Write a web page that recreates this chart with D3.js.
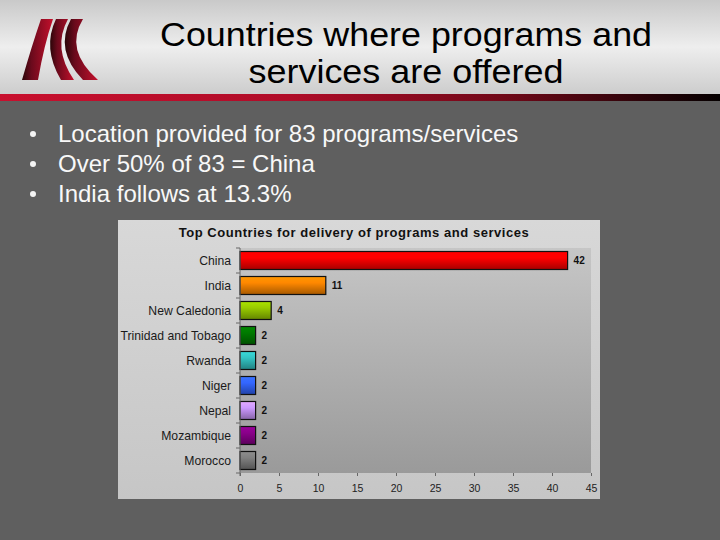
<!DOCTYPE html>
<html lang="en">
<head>
    <meta charset="utf-8" />
    <style>
        body {margin:0; background:#5f5f5f;}
        text {font-family: "Liberation Sans", Arial, sans-serif;}
    </style>
    <script src="https://d3js.org/d3.v7.min.js"></script>
</head>
<body>
    <svg></svg>
</body>
<script>
    var width = 720,
        height = 540;

    var titleLines = ["Countries where programs and", "services are offered"];
    var bullets = [
        "Location provided for 83 programs/services",
        "Over 50% of 83 = China",
        "India follows at 13.3%"
    ];

    var chartTitle = "Top Countries for delivery of programs and services";
    var categories = ["China", "India", "New Caledonia", "Trinidad and Tobago", "Rwanda",
                      "Niger", "Nepal", "Mozambique", "Morocco"];
    var values = [42, 11, 4, 2, 2, 2, 2, 2, 2];
    var xTicks = [0, 5, 10, 15, 20, 25, 30, 35, 40, 45];
    var barColors = ["#ff0000", "#ff8800", "#99cc00", "#007a00", "#33c4c4",
                     "#3366ff", "#cc99ff", "#8a008a", "#808080"];

    var svg = d3.select("svg")
        .attr("width", width)
        .attr("height", height)
        .style("display", "block")

    var defs = svg.append("defs");

    // header gradient
    var hg = defs.append("linearGradient").attr("id", "hdr").attr("x1", 0).attr("y1", 0).attr("x2", 0).attr("y2", 1);
    hg.append("stop").attr("offset", "0%").attr("stop-color", "#c9c9c9");
    hg.append("stop").attr("offset", "50%").attr("stop-color", "#eeeeee");
    hg.append("stop").attr("offset", "100%").attr("stop-color", "#cdcdcd");

    var rg = defs.append("linearGradient").attr("id", "redline");
    rg.append("stop").attr("offset", "0%").attr("stop-color", "#c8102e");
    rg.append("stop").attr("offset", "40%").attr("stop-color", "#b00c28");
    rg.append("stop").attr("offset", "70%").attr("stop-color", "#700818");
    rg.append("stop").attr("offset", "100%").attr("stop-color", "#050000");

    var lg = defs.append("linearGradient").attr("id", "logo").attr("x1", 0).attr("y1", 0).attr("x2", 1).attr("y2", 0);
    lg.append("stop").attr("offset", "0%").attr("stop-color", "#2a0508");
    lg.append("stop").attr("offset", "30%").attr("stop-color", "#6a0a1c");
    lg.append("stop").attr("offset", "100%").attr("stop-color", "#c4102c");

    var pg = defs.append("linearGradient").attr("id", "plotbg").attr("x1", 0).attr("y1", 0).attr("x2", 0).attr("y2", 1);
    pg.append("stop").attr("offset", "0%").attr("stop-color", "#c6c6c6");
    pg.append("stop").attr("offset", "100%").attr("stop-color", "#9a9a9a");

    var cg = defs.append("linearGradient").attr("id", "chartbg").attr("x1", 0).attr("y1", 0).attr("x2", 0).attr("y2", 1);
    cg.append("stop").attr("offset", "0%").attr("stop-color", "#d8d8d8");
    cg.append("stop").attr("offset", "100%").attr("stop-color", "#c6c6c6");

    barColors.forEach(function(c, i) {
        var g = defs.append("linearGradient").attr("id", "bar" + i)
            .attr("x1", 0).attr("y1", 0).attr("x2", 0).attr("y2", 1);
        g.append("stop").attr("offset", "0%").attr("stop-color", d3.color(c).brighter(0.3));
        g.append("stop").attr("offset", "35%").attr("stop-color", c);
        g.append("stop").attr("offset", "100%").attr("stop-color", d3.color(c).darker(1.2));
    })

    // slide header
    svg.append("rect").attr("width", width).attr("height", height).attr("fill", "#5f5f5f");
    svg.append("rect").attr("width", width).attr("height", 94).attr("fill", "url(#hdr)");
    svg.append("rect").attr("y", 94).attr("width", width).attr("height", 7).attr("fill", "url(#redline)");

    // logo: three curved stripes
    var logo = svg.append("g").attr("fill", "url(#logo)");
    logo.append("path").attr("d", "M41,19 L53,19 Q44,45 38,80 L22,80 Q32,45 41,19 Z");
    logo.append("path").attr("d", "M56,19 L68,19 Q52,48 74,80 L61,80 Q42,48 56,19 Z");
    logo.append("path").attr("d", "M71,19 L83,19 Q64,50 98,80 L83,80 Q54,50 71,19 Z");

    // title: tight line spacing, widths matched to the slide
    var titleWidths = [492, 315];
    svg.append("g").selectAll("text")
        .data(titleLines)
      .enter().append("text")
        .attr("x", 406)
        .attr("y", function(d, i) {return 45.5 + i * 37.5})
        .attr("text-anchor", "middle")
        .attr("font-size", 33.5)
        .attr("textLength", function(d, i) {return titleWidths[i]})
        .attr("lengthAdjust", "spacingAndGlyphs")
        .attr("fill", "#000")
        .text(function(d) {return d})

    var bl = svg.append("g").selectAll("g")
        .data(bullets)
      .enter().append("g")
        .attr("transform", function(d, i) {return "translate(0," + (142 + i * 30) + ")"})
    bl.append("circle").attr("cx", 33).attr("cy", -8).attr("r", 3).attr("fill", "#f4f4f4");
    bl.append("text")
        .attr("x", 58)
        .attr("font-size", 24)
        .attr("fill", "#f8f8f8")
        .text(function(d) {return d})

    // chart panel
    svg.append("rect").attr("x", 118).attr("y", 220).attr("width", 482).attr("height", 279)
        .attr("fill", "url(#chartbg)");

    svg.append("text")
        .attr("x", 354).attr("y", 236.5)
        .attr("text-anchor", "middle")
        .attr("font-size", 13)
        .attr("font-weight", "bold")
        .attr("letter-spacing", 0.55)
        .attr("fill", "#111")
        .text(chartTitle)

    var x = d3.scaleLinear().domain([0, 45]).range([240, 591]);
    var y = d3.scaleBand().domain(categories).range([248, 473]).paddingInner(0.28).paddingOuter(0.14);

    svg.append("rect").attr("x", x(0)).attr("y", 248).attr("width", x(45) - x(0)).attr("height", 225)
        .attr("fill", "url(#plotbg)");

    svg.append("g").selectAll("rect")
        .data(values)
      .enter().append("rect")
        .attr("x", x(0))
        .attr("y", function(d, i) {return y(categories[i])})
        .attr("width", function(d) {return x(d) - x(0)})
        .attr("height", y.bandwidth())
        .attr("fill", function(d, i) {return "url(#bar" + i + ")"})
        .attr("stroke", "#111")
        .attr("stroke-width", 1.2)

    svg.append("g").selectAll("text")
        .data(values)
      .enter().append("text")
        .attr("x", function(d) {return x(d) + 6})
        .attr("y", function(d, i) {return y(categories[i]) + y.bandwidth() / 2 + 3.5})
        .attr("font-size", 10)
        .attr("font-weight", "bold")
        .attr("fill", "#111")
        .text(function(d) {return d})

    // y axis: category labels and ticks between bands
    svg.append("g").selectAll("text")
        .data(categories)
      .enter().append("text")
        .attr("x", 231)
        .attr("y", function(d) {return y(d) + y.bandwidth() / 2 + 4.5})
        .attr("text-anchor", "end")
        .attr("font-size", 12.2)
        .attr("fill", "#1a1a1a")
        .text(function(d) {return d})

    var yTickPos = categories.map(function(d) {return y(d) - y.step() * 0.14});
    yTickPos.push(473);
    svg.append("line").attr("x1", 240).attr("x2", 240).attr("y1", 248).attr("y2", 476)
        .attr("stroke", "#666");
    svg.append("g").selectAll("line")
        .data(yTickPos)
      .enter().append("line")
        .attr("x1", 236).attr("x2", 240)
        .attr("y1", function(d) {return d}).attr("y2", function(d) {return d})
        .attr("stroke", "#666")

    // x axis
    var xAxis = svg.append("g")
        .attr("transform", "translate(0,473)")
        .call(d3.axisBottom(x).tickValues(xTicks).tickSize(3).tickPadding(9))
    xAxis.select(".domain").remove();
    xAxis.selectAll("line").attr("stroke", "#666");
    xAxis.selectAll("text")
        .attr("font-family", "Liberation Sans, Arial, sans-serif")
        .attr("font-size", 10.5)
        .attr("fill", "#222")
</script>
</html>
